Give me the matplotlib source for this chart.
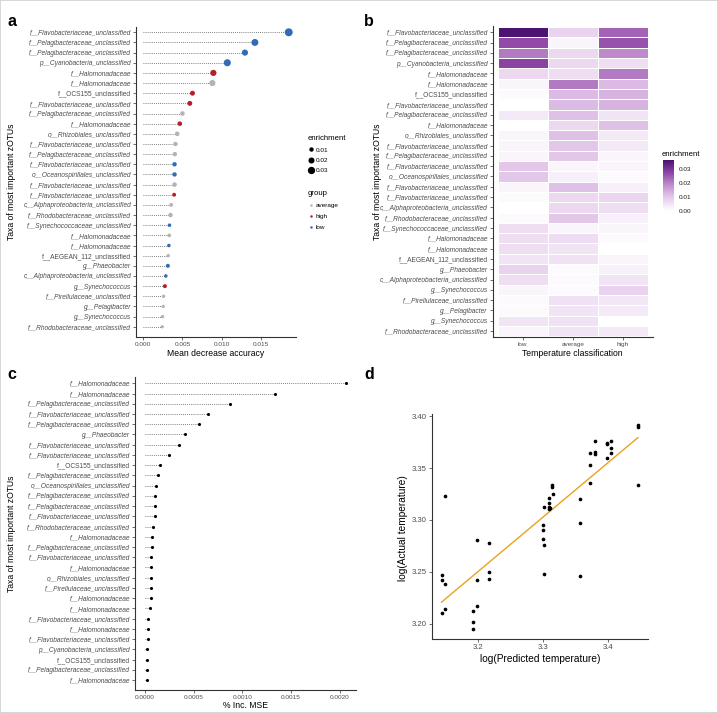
import numpy as np
import matplotlib.pyplot as plt
from matplotlib.colors import LinearSegmentedColormap
from matplotlib.lines import Line2D
from matplotlib.patches import Rectangle

plt.rcParams['font.family'] = ['Liberation Sans', 'DejaVu Sans']

# panel a / b: taxa ranked by mean decrease accuracy
taxa = ['f__Flavobacteriaceae_unclassified', 'f__Pelagibacteraceae_unclassified',
        'f__Pelagibacteraceae_unclassified', 'p__Cyanobacteria_unclassified',
        'f__Halomonadaceae', 'f__Halomonadaceae', 'f__OCS155_unclassified',
        'f__Flavobacteriaceae_unclassified', 'f__Pelagibacteraceae_unclassified',
        'f__Halomonadaceae', 'o__Rhizobiales_unclassified',
        'f__Flavobacteriaceae_unclassified', 'f__Pelagibacteraceae_unclassified',
        'f__Flavobacteriaceae_unclassified', 'o__Oceanospirillales_unclassified',
        'f__Flavobacteriaceae_unclassified', 'f__Flavobacteriaceae_unclassified',
        'c__Alphaproteobacteria_unclassified', 'f__Rhodobacteraceae_unclassified',
        'f__Synechococcaceae_unclassified', 'f__Halomonadaceae', 'f__Halomonadaceae',
        'f__AEGEAN_112_unclassified', 'g__Phaeobacter',
        'c__Alphaproteobacteria_unclassified', 'g__Synechococcus',
        'f__Pirellulaceae_unclassified', 'g__Pelagibacter', 'g__Synechococcus',
        'f__Rhodobacteraceae_unclassified']
mda = [0.01857, 0.01425, 0.01298, 0.01073, 0.00895, 0.00882, 0.00628, 0.00594,
       0.00500, 0.00466, 0.00433, 0.00411, 0.00403, 0.00399, 0.00399, 0.00399,
       0.00394, 0.00356, 0.00348, 0.00335, 0.00331, 0.00327, 0.00318, 0.00314,
       0.00288, 0.00276, 0.00259, 0.00254, 0.00246, 0.00242]
group = ['low', 'low', 'low', 'low', 'high', 'average', 'high', 'high', 'average',
         'high', 'average', 'average', 'average', 'low', 'low', 'average', 'high',
         'average', 'average', 'low', 'average', 'low', 'average', 'low', 'low',
         'high', 'average', 'average', 'average', 'average']

temp_class = ['low', 'average', 'high']
enrich_low = [0.036, 0.027, 0.021, 0.028, 0.007, 0.002, 0.001, 0.000, 0.004, 0.000,
              0.002, 0.002, 0.002, 0.010, 0.010, 0.002, 0.001, 0.000, 0.001, 0.006,
              0.006, 0.006, 0.005, 0.008, 0.006, 0.002, 0.001, 0.001, 0.005, 0.002]
enrich_avg = [0.008, 0.002, 0.007, 0.007, 0.006, 0.021, 0.012, 0.012, 0.011, 0.007,
              0.011, 0.010, 0.010, 0.002, 0.003, 0.011, 0.007, 0.007, 0.010, 0.002,
              0.0065, 0.005, 0.0055, 0.001, 0.001, 0.001, 0.0055, 0.005, 0.0055, 0.005]
enrich_high = [0.024, 0.026, 0.019, 0.006, 0.021, 0.012, 0.013, 0.013, 0.005, 0.011,
               0.004, 0.004, 0.002, 0.002, 0.001, 0.003, 0.0075, 0.006, 0.003, 0.002,
               0.001, 0.000, 0.002, 0.003, 0.005, 0.008, 0.0045, 0.004, 0.000, 0.004]

# panel c: regression importance
taxa_mse = ['f__Halomonadaceae', 'f__Halomonadaceae', 'f__Pelagibacteraceae_unclassified',
            'f__Flavobacteriaceae_unclassified', 'f__Pelagibacteraceae_unclassified',
            'g__Phaeobacter', 'f__Flavobacteriaceae_unclassified',
            'f__Flavobacteriaceae_unclassified', 'f__OCS155_unclassified',
            'f__Pelagibacteraceae_unclassified', 'o__Oceanospirillales_unclassified',
            'f__Pelagibacteraceae_unclassified', 'f__Pelagibacteraceae_unclassified',
            'f__Flavobacteriaceae_unclassified', 'f__Rhodobacteraceae_unclassified',
            'f__Halomonadaceae', 'f__Pelagibacteraceae_unclassified',
            'f__Flavobacteriaceae_unclassified', 'f__Halomonadaceae',
            'o__Rhizobiales_unclassified', 'f__Pirellulaceae_unclassified',
            'f__Halomonadaceae', 'f__Halomonadaceae', 'f__Flavobacteriaceae_unclassified',
            'f__Halomonadaceae', 'f__Flavobacteriaceae_unclassified',
            'p__Cyanobacteria_unclassified', 'f__OCS155_unclassified',
            'f__Pelagibacteraceae_unclassified', 'f__Halomonadaceae']
inc_mse = [0.002064, 0.001338, 0.000873, 0.000647, 0.000551, 0.000414, 0.000352,
           0.000246, 0.000157, 0.000133, 0.000109, 0.000103, 0.000100, 0.000099,
           0.000078, 0.0000753, 0.0000684, 0.000065, 0.0000616, 0.000060, 0.000058,
           0.000058, 0.000048, 0.000034, 0.000034, 0.000027, 0.000024, 0.000020,
           0.000020, 0.000019]

# panel d: predicted vs actual
pred_temp = [3.1442, 3.1442, 3.1442, 3.1499, 3.1499, 3.1499, 3.1918, 3.1918, 3.1918,
             3.1985, 3.1985, 3.1985, 3.2174, 3.2174, 3.2174, 3.2992, 3.2992, 3.2992,
             3.3008, 3.3008, 3.3008, 3.3090, 3.3092, 3.3095, 3.3097, 3.3100, 3.3141,
             3.3141, 3.3146, 3.3570, 3.3570, 3.3570, 3.3724, 3.3724, 3.3724, 3.3795,
             3.3795, 3.3795, 3.3980, 3.3985, 3.3980, 3.4046, 3.4046, 3.4046, 3.4455,
             3.4455, 3.4455]
actual_temp = [3.2466, 3.2419, 3.2105, 3.3230, 3.2377, 3.2137, 3.2118, 3.2016, 3.1949,
               3.2808, 3.2425, 3.2169, 3.2780, 3.2495, 3.2434, 3.2952, 3.2904, 3.2818,
               3.3125, 3.2760, 3.2476, 3.3128, 3.3160, 3.3102, 3.3208, 3.3118, 3.3336,
               3.3320, 3.3249, 3.3201, 3.2968, 3.2460, 3.3645, 3.3534, 3.3355, 3.3767,
               3.3658, 3.3636, 3.3741, 3.3735, 3.3594, 3.3767, 3.3693, 3.3642, 3.3920,
               3.3895, 3.3342]

group_colors = {'average': '#b3b3b3', 'high': '#b5202a', 'low': '#2f6db5'}
cmap = LinearSegmentedColormap.from_list(
    'enrich', ['#ffffff', '#e6cdec', '#c290d0', '#8f47a6', '#4a1070'])

W, H = 718, 713
fig = plt.figure(figsize=(W / 100, H / 100), dpi=100)


def box(l, t, r, b):
    return [l / W, 1 - b / H, (r - l) / W, (b - t) / H]


def classic(ax, tick_size=4.6):
    for s in ['top', 'right']:
        ax.spines[s].set_visible(False)
    for s in ['left', 'bottom']:
        ax.spines[s].set_color('#333333')
        ax.spines[s].set_linewidth(0.8)
    ax.tick_params(length=2, width=0.5, color='#333333', labelcolor='#4d4d4d',
                   labelsize=tick_size, pad=1.5)


def taxa_labels(ax, labels):
    ax.set_yticks(range(len(labels)))
    ax.set_yticklabels(labels)
    for t in ax.get_yticklabels():
        if not any(ch.isdigit() for ch in t.get_text()):
            t.set_fontstyle('italic')
        t.set_fontsize(4.75)


def dot_px(v):
    return np.sqrt(2.5 + 1700 * np.asarray(v))


# ---- a
ax_a = fig.add_axes(box(136, 26.7, 296, 336.7))
classic(ax_a)
y = np.arange(len(taxa))
enrich_max = np.max(np.array([enrich_low, enrich_avg, enrich_high]), axis=0)
ax_a.hlines(y, 0, mda, colors='#555555', linestyles=(0, (1, 1.5)), linewidth=0.6)
ax_a.scatter(mda, y, s=(dot_px(enrich_max) * 0.72) ** 2,
             c=[group_colors[g] for g in group], linewidths=0, zorder=3)
ax_a.set_ylim(29.98, -0.55)
taxa_labels(ax_a, taxa)
ax_a.set_xticks([0, 0.005, 0.010, 0.015])
ax_a.xaxis.set_major_formatter('{x:.3f}')
ax_a.set_xlabel('Mean decrease accuracy', fontsize=6.2, va='center')
ax_a.xaxis.set_label_coords(0.5, -(353 - 336.7) / 310)
ax_a.set_ylabel('Taxa of most important zOTUs', fontsize=6.2, va='center')
ax_a.yaxis.set_label_coords((12 - 136) / 160, 0.5)

size_handles = [Line2D([], [], marker='o', ls='', color='black', markeredgewidth=0,
                       markersize=dot_px(v) * 0.72) for v in [0.01, 0.02, 0.03]]
leg1 = ax_a.legend(size_handles, ['0.01', '0.02', '0.03'], title='enrichment',
                   loc='upper left', bbox_to_anchor=(303 / W, 1 - 131 / H),
                   bbox_transform=fig.transFigure, frameon=False, fontsize=4.6,
                   title_fontsize=5.6, alignment='left', handlelength=1.0,
                   handletextpad=0.3, labelspacing=0.75, borderpad=0.2)
ax_a.add_artist(leg1)
group_handles = [Line2D([], [], marker='o', ls='', color=group_colors[g],
                        markeredgewidth=0, markersize=1.8)
                 for g in ['average', 'high', 'low']]
ax_a.legend(group_handles, ['average', 'high', 'low'], title='group',
            loc='upper left', bbox_to_anchor=(303 / W, 1 - 186 / H),
            bbox_transform=fig.transFigure, frameon=False, fontsize=4.6,
            title_fontsize=5.6, alignment='left', handlelength=1.0,
            handletextpad=0.3, labelspacing=0.85, borderpad=0.2)

# ---- b
ax_b = fig.add_axes(box(492.7, 26.1, 652.7, 337.2))
classic(ax_b)
mat = np.array([enrich_low, enrich_avg, enrich_high]).T
mesh = ax_b.pcolormesh(np.arange(0.5, 3.6, 1), np.arange(-0.5, len(taxa), 1), mat,
                       cmap=cmap, vmin=0, vmax=0.0365, edgecolors='white',
                       linewidth=0.6)
ax_b.set_xlim(0.4, 3.6)
ax_b.set_ylim(29.6, -0.6)
ax_b.set_xticks([1, 2, 3])
ax_b.set_xticklabels(temp_class)
taxa_labels(ax_b, taxa)
ax_b.set_xlabel('Temperature classification', fontsize=6.2, va='center')
ax_b.xaxis.set_label_coords(0.5, -(353 - 337.2) / 311)
ax_b.set_ylabel('Taxa of most important zOTUs', fontsize=6.2, va='center')
ax_b.yaxis.set_label_coords((377 - 492.7) / 160, 0.5)

cax = fig.add_axes(box(663, 160, 674, 211))
cb = fig.colorbar(mesh, cax=cax, ticks=[0, 0.01, 0.02, 0.03])
cb.outline.set_visible(False)
cb.ax.tick_params(length=2, width=0.5, color='white', labelsize=4.6, pad=1.5,
                  labelcolor='#1a1a1a')
cb.ax.yaxis.set_major_formatter('{x:.2f}')
fig.text(662 / W, 1 - 154 / H, 'enrichment', fontsize=5.6, va='center', ha='left')

# ---- c
ax_c = fig.add_axes(box(135, 376.7, 356, 690))
classic(ax_c)
yc = np.arange(len(taxa_mse))
ax_c.hlines(yc, 0, inc_mse, colors='#555555', linestyles=(0, (1, 1.5)), linewidth=0.6)
ax_c.scatter(inc_mse, yc, s=5, c='black', linewidths=0, zorder=3)
ax_c.set_ylim(29.98, -0.65)
taxa_labels(ax_c, taxa_mse)
ax_c.set_xticks([0, 0.0005, 0.0010, 0.0015, 0.0020])
ax_c.xaxis.set_major_formatter('{x:.4f}')
ax_c.set_xlabel('% Inc. MSE', fontsize=6.2, va='center')
ax_c.xaxis.set_label_coords(0.5, -(706 - 690) / 313.3)
ax_c.set_ylabel('Taxa of most important zOTUs', fontsize=6.2, va='center')
ax_c.yaxis.set_label_coords((12 - 135) / 221, 0.5)

# ---- d
ax_d = fig.add_axes(box(431.7, 414.5, 647.7, 639))
classic(ax_d, tick_size=5.6)
ax_d.scatter(pred_temp, actual_temp, s=7, c='black', linewidths=0, zorder=3)
slope, icpt = np.polyfit(pred_temp, actual_temp, 1)
xs = np.array([min(pred_temp), max(pred_temp)])
ax_d.plot(xs, icpt + slope * xs, color='#E9A21F', linewidth=1.0)
ax_d.set_xticks([3.2, 3.3, 3.4])
ax_d.set_yticks([3.20, 3.25, 3.30, 3.35, 3.40])
ax_d.yaxis.set_major_formatter('{x:.2f}')
ax_d.set_xlabel('log(Predicted temperature)', fontsize=7.3, va='center')
ax_d.xaxis.set_label_coords(0.5, -(659 - 639) / 224.5)
ax_d.set_ylabel('log(Actual temperature)', fontsize=7.3, va='center')
ax_d.yaxis.set_label_coords((402.7 - 431.7) / 216, (639 - 528) / 224.5)

for lab, (px, py) in zip('abcd', [(12, 21), (369, 21), (12, 375), (369, 375)]):
    fig.text(px / W, 1 - py / H, lab, fontsize=11.5, fontweight='bold',
             ha='center', va='center')

fig.patches.append(Rectangle((0, 0), 1, 1, transform=fig.transFigure, fill=False,
                             edgecolor='#cfcfcf', linewidth=1.2))

fig.savefig('out.png', dpi=100)
